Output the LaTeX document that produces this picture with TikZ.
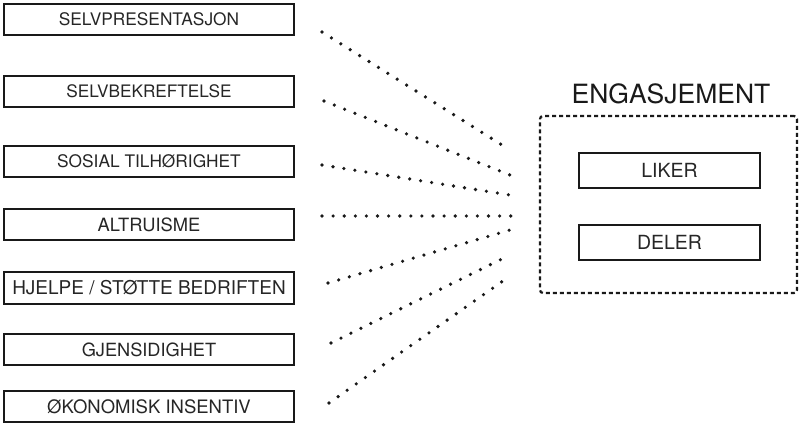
\documentclass[tikz,border=0pt]{standalone}
\usepackage{fontspec}
\setmainfont{TeX Gyre Heros}
\newcommand{\fs}[1]{\fontsize{#1}{#1}\selectfont}
\begin{document}
\begin{tikzpicture}[x=1pt,y=-1pt,
  factor/.style={draw=black!90, line width=1.8pt, minimum width=290pt, minimum height=31pt, inner sep=0pt, text=black!85},
  inner/.style={draw=black!90, line width=1.8pt, minimum width=181pt, minimum height=35pt, inner sep=0pt, font=\fs{19.5}, text=black!85},
  dots/.style={line width=3.6pt, line cap=round, dash pattern=on 0pt off 11.1pt, black!90},
  group/.style={draw=black!90, line width=2.2pt, dash pattern=on 4pt off 3pt, rounded corners=3pt}]
\useasboundingbox (0,0) rectangle (800,423);
\node[factor, font=\fs{17.3}] (f1) at (149,19.5) {SELVPRESENTASJON};
\node[factor, font=\fs{17.2}] (f2) at (149,91.5) {SELVBEKREFTELSE};
\node[factor, font=\fs{17.3}] (f3) at (149,161.5) {SOSIAL TILHØRIGHET};
\node[factor, font=\fs{18.3}] (f4) at (149,224.5) {ALTRUISME};
\node[factor, font=\fs{19}, minimum height=32pt] (f5) at (149,288) {HJELPE / STØTTE BEDRIFTEN};
\node[factor, font=\fs{18.2}] (f6) at (149,349.5) {GJENSIDIGHET};
\node[factor, font=\fs{18.5}] (f7) at (149,406.5) {ØKONOMISK INSENTIV};
\node[group, minimum width=257pt, minimum height=177pt, inner sep=0pt] (g) at (668.5,204.5) {};
\node[font=\fs{26.5}, text=black!90] (t) at (671,94) {ENGASJEMENT};
\node[inner] (l) at (669.5,170.5) {LIKER};
\node[inner] (d) at (669.5,242.5) {DELER};
\coordinate (s1) at (322,32);  \coordinate (e1) at (510,150);
\coordinate (s2) at (324,101); \coordinate (e2) at (510,175);
\coordinate (s3) at (322,165); \coordinate (e3) at (510,195);
\coordinate (s4) at (322,216); \coordinate (e4) at (513,216);
\coordinate (s5) at (328,283); \coordinate (e5) at (510,230);
\coordinate (s6) at (331,343); \coordinate (e6) at (510,255);
\coordinate (s7) at (329,403); \coordinate (e7) at (510,276);
\foreach \i in {1,...,7} {\draw[dots] (s\i) -- (e\i);}
\end{tikzpicture}
\end{document}
